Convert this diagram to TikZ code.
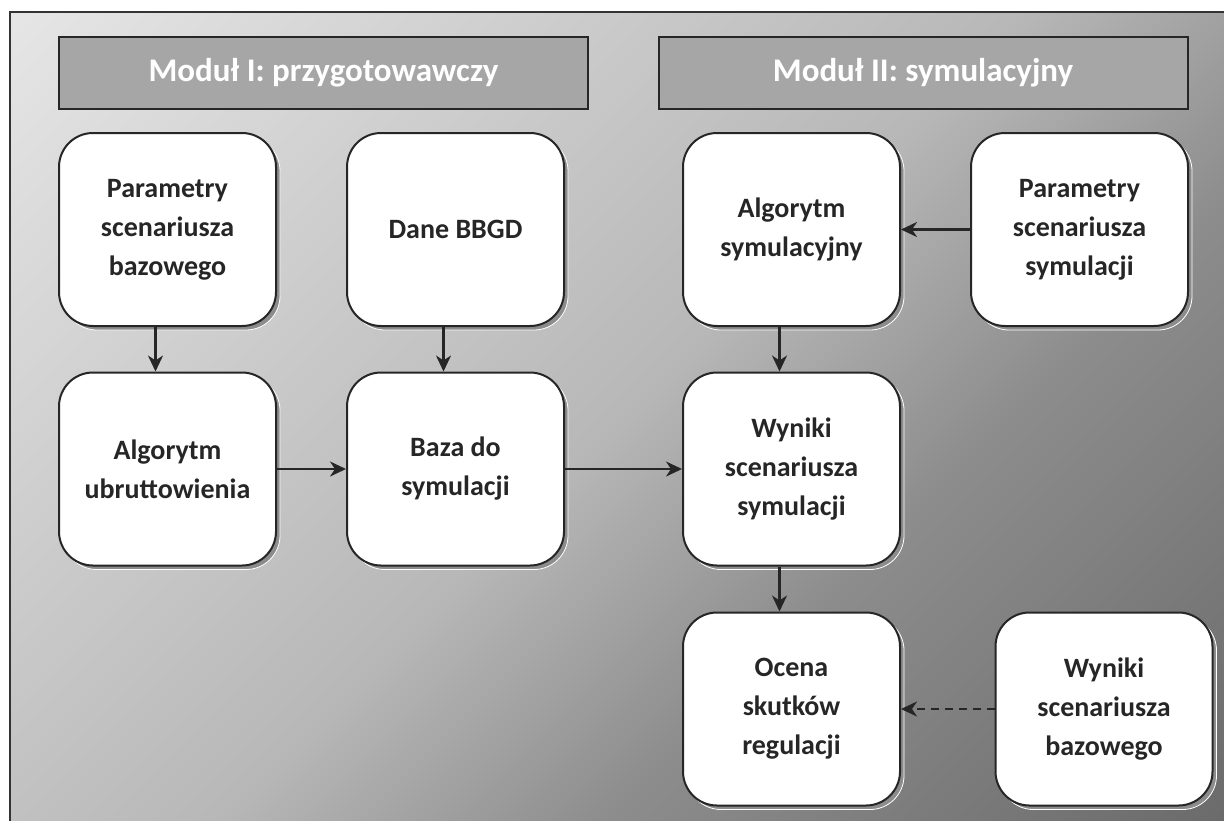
\documentclass[tikz,border=0pt]{standalone}
\usepackage{fontspec}
\setmainfont{Carlito}
\usepackage{xcolor}
\usepackage{tikz}
\usetikzlibrary{arrows.meta,shadows}
\definecolor{bgA}{gray}{0.90}
\definecolor{bgB}{gray}{0.72}
\definecolor{bgC}{gray}{0.55}
\definecolor{bgD}{gray}{0.42}
\pgfdeclarehorizontalshading{bgshade}{100bp}{color(0bp)=(bgA); color(14.64bp)=(bgA);
  color(50bp)=(bgB); color(64bp)=(bgC); color(85.36bp)=(bgD); color(100bp)=(bgD)}

\begin{document}
\begin{tikzpicture}[x=0.5pt, y=-0.5pt,
  font=\fontsize{14}{19.5}\selectfont\bfseries, >={Stealth[length=8pt, width=7.5pt, inset=2.5pt]},
  b/.style={draw=black!85, line width=1pt, rounded corners=17pt, fill=white, text=black!85,
    minimum width=108.5pt, minimum height=96.5pt, align=center,
    drop shadow={shadow xshift=2pt, shadow yshift=-2pt, fill=black!45, draw=white, line width=0.4pt, opacity=1}},
  h/.style={draw=black!85, line width=1pt, fill=black!35, text=white, font=\fontsize{16.5}{20}\selectfont\bfseries,
    minimum width=264.5pt, minimum height=36pt},
  a/.style={->, line width=1.2pt, draw=black!85}]
\useasboundingbox (0,0) rectangle (1224,820);
\shade[shading=bgshade, shading angle=-45] (10,12) rectangle (1224,820);
\draw[line width=1pt, black!80] (10,12) rectangle (1240,840);
\node[h] (m1) at (323.5,73) {Moduł I: przygotowawczy};
\node[h] (m2) at (923,73) {Moduł II: symulacyjny};
\node[b] (pb) at (167.5,229.5) {Parametry\\scenariusza\\bazowego};
\node[b] (dn) at (455.5,229.5) {Dane BBGD};
\node[b] (as) at (791.5,229.5) {Algorytm\\symulacyjny};
\node[b] (ps) at (1079.5,229.5) {Parametry\\scenariusza\\symulacji};
\node[b] (au) at (167.5,469) {Algorytm\\ubruttowienia};
\node[b] (bz) at (455.5,469) {Baza do\\symulacji};
\node[b] (ws) at (791.5,469) {Wyniki\\scenariusza\\symulacji};
\node[b] (oc) at (791.5,709) {Ocena\\skutków\\regulacji};
\node[b] (wb) at (1104,709) {Wyniki\\scenariusza\\bazowego};
\draw[a] ([xshift=-6pt]pb.south) -- ([xshift=-6pt]au.north);
\draw[a] ([xshift=-6pt]dn.south) -- ([xshift=-6pt]bz.north);
\draw[a] ([xshift=-6pt]as.south) -- ([xshift=-6pt]ws.north);
\draw[a] ([xshift=-6pt]ws.south) -- ([xshift=-6pt]oc.north);
\draw[a] (ps) -- (as); \draw[a] (au) -- (bz); \draw[a] (bz) -- (ws);
\draw[a, dash pattern=on 4pt off 3pt] (wb) -- (oc);
\end{tikzpicture}
\end{document}
